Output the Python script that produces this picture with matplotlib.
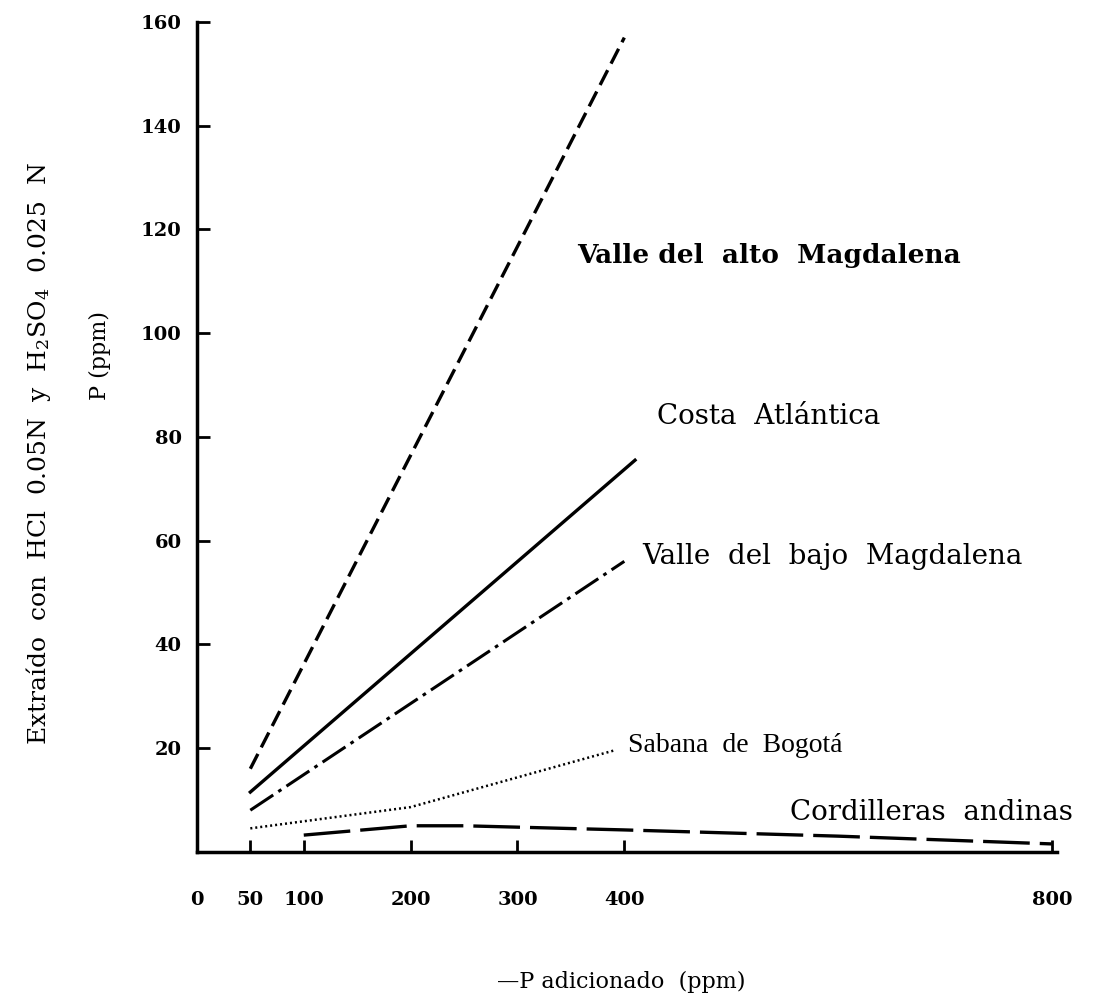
import matplotlib
matplotlib.use('Agg')
import matplotlib.pyplot as plt

plt.rcParams['font.family'] = ['DejaVu Serif']
plt.rcParams['mathtext.fontset'] = 'dejavuserif'

# data (P adicionado vs P extraido, ppm)
alto_x = [50, 400]
alto_y = [16, 157]
costa_x = [50, 410]
costa_y = [11.5, 75.5]
bajo_x = [50, 400]
bajo_y = [8, 56]
sabana_x = [50, 200, 390]
sabana_y = [4.5, 8.6, 19.5]
cordill_x = [100, 200, 250, 400, 600, 800]
cordill_y = [3.2, 5.0, 5.0, 4.2, 3.0, 1.5]

xticks = [0, 50, 100, 200, 300, 400, 800]
yticks = [20, 40, 60, 80, 100, 120, 140, 160]

fig = plt.figure(figsize=(11, 10.02), dpi=100)
ax = fig.add_axes([0.179, 0.150, 0.782, 0.828])

ax.plot(alto_x, alto_y, color='black', lw=2.4, dashes=(5, 2.2))
ax.plot(costa_x, costa_y, color='black', lw=2.4)
ax.plot(bajo_x, bajo_y, color='black', lw=2.2, dashes=(9, 2, 1.2, 2))
ax.plot(sabana_x, sabana_y, color='black', lw=1.8, dashes=(0.8, 1.2))
ax.plot(cordill_x, cordill_y, color='black', lw=2.4, dashes=(14, 3))

# curve names
ax.text(356, 115, 'Valle del  alto  Magdalena', fontsize=19, fontweight='bold', va='center')
ax.text(431, 84, 'Costa  Atlántica', fontsize=20, va='center')
ax.text(417, 57, 'Valle  del  bajo  Magdalena', fontsize=20, va='center')
ax.text(403, 20.5, 'Sabana  de  Bogotá', fontsize=20, va='center', family='Liberation Serif')
ax.text(555, 7.5, 'Cordilleras  andinas', fontsize=20, va='center')

ax.set_xlim(0, 805)
ax.set_ylim(0, 160)
ax.set_xticks(xticks)
ax.set_yticks(yticks)
ax.set_xticklabels([str(v) for v in xticks], fontsize=14, fontweight='bold')
ax.set_yticklabels([str(v) for v in yticks], fontsize=14, fontweight='bold')
ax.tick_params(axis='both', direction='in', length=9, width=2)
ax.tick_params(axis='x', pad=28)
ax.tick_params(axis='y', pad=11)

for s in ['top', 'right']:
    ax.spines[s].set_visible(False)
for s in ['left', 'bottom']:
    ax.spines[s].set_linewidth(2.5)

fig.text(0.035, 0.547, 'Extraído  con  HCl  0.05N  y  H$_2$SO$_4$  0.025  N',
         rotation=90, fontsize=18, ha='center', va='center')
fig.text(0.091, 0.645, 'P (ppm)', rotation=90, fontsize=16, ha='center', va='center')
fig.text(0.565, 0.02, '—P adicionado  (ppm)', fontsize=16, ha='center', va='center')

fig.savefig('out.png', dpi=100)
